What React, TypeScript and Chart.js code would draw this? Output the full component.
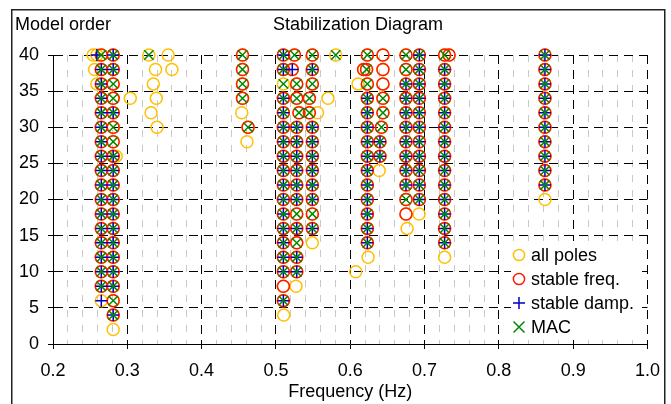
import React, { useEffect, useRef } from 'react';
import { Chart, registerables } from 'chart.js';

Chart.register(...registerables);

type Track = [number, number[]];

// Pole tracks grouped by stability class: [frequency (Hz), model orders]
const polesFreqDampMac: Track[] = [
  [0.265, [8, 10, 12, 14, 16, 18, 20, 22, 24, 26, 28, 30, 32, 34, 36, 38]],
  [0.281, [4, 8, 10, 12, 14, 16, 18, 20, 22, 24, 26, 32, 38, 40]],
  [0.51, [6, 10, 12, 14, 16, 18, 20, 22, 24, 26, 28, 30, 32, 34, 38, 40]],
  [0.528, [10, 12, 16, 20, 22, 24, 26, 28, 30]],
  [0.549, [16, 20, 22, 24, 26, 28, 30, 38]],
  [0.623, [14, 16, 18, 20, 22, 24, 26, 28, 30, 32, 34]],
  [0.64, [26, 28]],
  [0.675, [22, 24, 26, 28, 30, 32, 34, 36]],
  [0.693, [20, 22, 24, 26, 28, 30, 32, 34, 36, 38, 40]],
  [0.727, [14, 16, 18, 20, 22, 24, 26, 28, 30, 32, 34, 36, 38]],
  [0.862, [22, 24, 26, 28, 30, 32, 34, 36, 38, 40]],
];
const polesFreqMac: Track[] = [
  [0.265, [40]],
  [0.281, [6, 28, 30, 34, 36]],
  [0.455, [34, 36, 38, 40]],
  [0.4625, [30]],
  [0.525, [40]],
  [0.528, [14, 18, 34, 36]],
  [0.531, [32]],
  [0.545, [32, 34]],
  [0.549, [18, 36, 40]],
  [0.622, [38]],
  [0.623, [36, 40]],
  [0.642, [30]],
  [0.644, [32, 34]],
  [0.675, [20, 38, 40]],
  [0.727, [40]],
];
const polesFreqDamp: Track[] = [[0.522, [38]]];
const polesFreqOnly: Track[] = [
  [0.51, [8]],
  [0.618, [38]],
  [0.644, [36, 38, 40]],
  [0.675, [18]],
  [0.733, [40]],
];
const polesDampOnly: Track[] = [
  [0.259, [40]],
  [0.265, [6]],
];
const polesMacOnly: Track[] = [
  [0.329, [40]],
  [0.51, [36]],
  [0.5805, [40]],
];
const polesUnstable: Track[] = [
  [0.254, [40]],
  [0.256, [38]],
  [0.259, [36]],
  [0.281, [2]],
  [0.285, [26]],
  [0.304, [34]],
  [0.332, [32]],
  [0.335, [36]],
  [0.338, [38]],
  [0.339, [34]],
  [0.34, [30]],
  [0.355, [40]],
  [0.36, [38]],
  [0.454, [32]],
  [0.461, [28]],
  [0.5105, [4]],
  [0.527, [8]],
  [0.549, [14]],
  [0.556, [32]],
  [0.57, [34]],
  [0.6074, [10]],
  [0.6105, [36]],
  [0.624, [12]],
  [0.639, [24]],
  [0.6765, [16]],
  [0.6926, [18]],
  [0.727, [12]],
  [0.862, [20]],
];

const seriesLabels = ['all poles', 'stable freq.', 'stable damp.', 'MAC'];
const chartTitle = 'Stabilization Diagram';
const yAxisTitle = 'Model order';
const xAxisTitle = 'Frequency (Hz)';
const xMin = 0.2;
const xMax = 1.0;
const xMajorStep = 0.1;
const xMinorStep = 0.02;
const yMin = 0;
const yMax = 40;
const yStep = 5;

const FONT_FAMILY = '"Liberation Sans", Arial, Helvetica, sans-serif';
const COLORS = ['#FFC000', '#FF1A00', '#0000C0', '#008A00'];
const LINE_W = 1.5;

function toPoints(groups: Track[][]) {
  const pts: { x: number; y: number }[] = [];
  groups.forEach((g) =>
    g.forEach(([f, orders]) => orders.forEach((o) => pts.push({ x: f, y: o })))
  );
  return pts;
}

const isMajor = (v: number) =>
  Math.abs(v / xMajorStep - Math.round(v / xMajorStep)) < 1e-6;

const xTickValues: number[] = [];
for (let i = 0; i <= Math.round((xMax - xMin) / xMinorStep); i++) {
  xTickValues.push(Math.round((xMin + i * xMinorStep) * 1000) / 1000);
}

function drawMarker(ctx: CanvasRenderingContext2D, kind: number, x: number, y: number) {
  ctx.save();
  ctx.strokeStyle = COLORS[kind];
  ctx.lineWidth = LINE_W;
  ctx.beginPath();
  if (kind === 0 || kind === 1) {
    ctx.arc(x, y, 5.6, 0, Math.PI * 2);
  } else if (kind === 2) {
    ctx.moveTo(x - 6, y);
    ctx.lineTo(x + 6, y);
    ctx.moveTo(x, y - 6);
    ctx.lineTo(x, y + 6);
  } else {
    ctx.moveTo(x - 5.5, y - 5.5);
    ctx.lineTo(x + 5.5, y + 5.5);
    ctx.moveTo(x + 5.5, y - 5.5);
    ctx.lineTo(x - 5.5, y + 5.5);
  }
  ctx.stroke();
  ctx.restore();
}

const decorPlugin = {
  id: 'decor',
  afterDraw(chart: any) {
    const ctx: CanvasRenderingContext2D = chart.ctx;
    ctx.save();
    // figure frame
    ctx.strokeStyle = '#222';
    ctx.lineWidth = 1.5;
    ctx.strokeRect(11.75, 9.75, 653, 500);
    // titles
    ctx.fillStyle = '#000';
    ctx.font = `18px ${FONT_FAMILY}`;
    ctx.textBaseline = 'middle';
    ctx.textAlign = 'center';
    ctx.fillText(chartTitle, 358, 25);
    ctx.textAlign = 'left';
    ctx.fillText(yAxisTitle, 15, 25);
    // legend
    ctx.fillStyle = '#fff';
    ctx.fillRect(511, 241, 131, 93);
    seriesLabels.forEach((label, i) => {
      const y = 255 + i * 24;
      drawMarker(ctx, i, 519, y);
      ctx.fillStyle = '#000';
      ctx.textAlign = 'left';
      ctx.textBaseline = 'middle';
      ctx.fillText(label, 531, y + 1);
    });
    ctx.restore();
  },
};

export default function App() {
  const canvasRef = useRef<HTMLCanvasElement | null>(null);

  useEffect(() => {
    const canvas = canvasRef.current;
    if (!canvas) return;

    const allPoles = toPoints([
      polesFreqDampMac, polesFreqMac, polesFreqDamp, polesFreqOnly,
      polesDampOnly, polesMacOnly, polesUnstable,
    ]);
    const stableFreq = toPoints([polesFreqDampMac, polesFreqMac, polesFreqDamp, polesFreqOnly]);
    const stableDamp = toPoints([polesFreqDampMac, polesFreqDamp, polesDampOnly]);
    const mac = toPoints([polesFreqDampMac, polesFreqMac, polesMacOnly]);

    const mk = (i: number, data: any[], style: string, radius: number, order: number) => ({
      label: seriesLabels[i],
      data,
      showLine: false,
      pointStyle: style,
      pointRadius: radius,
      pointHoverRadius: radius,
      pointBorderColor: COLORS[i],
      pointBackgroundColor: 'rgba(0,0,0,0)',
      pointBorderWidth: LINE_W,
      pointHoverBorderWidth: LINE_W,
      borderColor: COLORS[i],
      backgroundColor: 'rgba(0,0,0,0)',
      clip: false as any,
      order,
    });

    const chart = new Chart(canvas, {
      type: 'scatter',
      data: {
        datasets: [
          mk(0, allPoles, 'circle', 6, 4),
          mk(1, stableFreq, 'circle', 6, 3),
          mk(2, stableDamp, 'cross', 6, 2),
          mk(3, mac, 'crossRot', 6.6, 1),
        ],
      },
      options: {
        responsive: false,
        animation: false,
        devicePixelRatio: 1,
        events: [],
        layout: { padding: { top: 55, right: 23, bottom: 0, left: 0 } },
        plugins: {
          legend: { display: false },
          title: { display: false },
          tooltip: { enabled: false },
        },
        scales: {
          x: {
            type: 'linear',
            position: 'bottom',
            min: xMin,
            max: xMax,
            afterBuildTicks: (scale: any) => {
              scale.ticks = xTickValues.map((v) => ({ value: v }));
            },
            afterFit: (scale: any) => {
              scale.height = 60;
            },
            ticks: {
              autoSkip: false,
              maxRotation: 0,
              minRotation: 0,
              padding: 11,
              color: '#000',
              font: { family: FONT_FAMILY, size: 18 },
              callback: (v: any) => (isMajor(Number(v)) ? Number(v).toFixed(1) : ''),
            },
            grid: {
              display: true,
              drawOnChartArea: true,
              drawTicks: true,
              tickLength: 5,
              lineWidth: 1,
              color: (ctx: any) =>
                ctx.tick && !isMajor(ctx.tick.value) ? '#c8c8c8' : '#000',
              tickColor: (ctx: any) =>
                ctx.tick && !isMajor(ctx.tick.value) ? 'rgba(0,0,0,0)' : '#000',
            },
            border: {
              display: true,
              color: '#000',
              width: 1,
              dash: (ctx: any) =>
                ctx.tick && !isMajor(ctx.tick.value) ? [7, 8] : [9, 6],
            },
            title: {
              display: true,
              text: xAxisTitle,
              color: '#000',
              font: { family: FONT_FAMILY, size: 18 },
              padding: { top: 0, bottom: 1.5 },
            },
          },
          y: {
            type: 'linear',
            position: 'left',
            min: yMin,
            max: yMax,
            afterFit: (scale: any) => {
              scale.width = 53;
            },
            ticks: {
              stepSize: yStep,
              padding: 9,
              color: '#000',
              font: { family: FONT_FAMILY, size: 18 },
            },
            grid: {
              display: true,
              drawTicks: true,
              tickLength: 5,
              lineWidth: 1,
              color: '#000',
              tickColor: '#000',
            },
            border: {
              display: true,
              color: '#000',
              width: 1,
              dash: [9, 6],
            },
          },
        },
      } as any,
      plugins: [decorPlugin],
    });

    return () => {
      chart.destroy();
    };
  }, []);

  return (
    <div
      style={{
        position: 'fixed',
        left: 0,
        top: 0,
        width: 671,
        height: 404,
        background: '#fff',
        overflow: 'hidden',
      }}
    >
      <canvas ref={canvasRef} width={671} height={404} style={{ display: 'block' }} />
    </div>
  );
}
